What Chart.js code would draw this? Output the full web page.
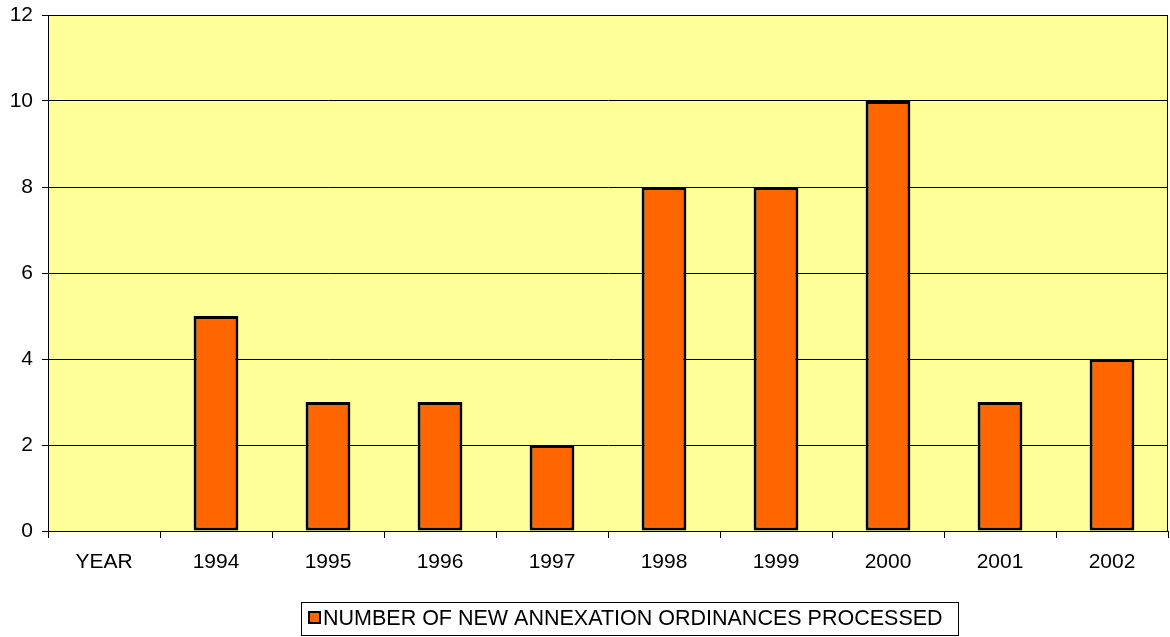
<!DOCTYPE html>
<html>
<head>
<meta charset="utf-8">
<script src="https://cdn.jsdelivr.net/npm/chart.js@4"></script>
<style>
  html, body { margin: 0; padding: 0; background: #fff; }
  #wrap { width: 1170px; height: 637px; }
</style>
</head>
<body>
<div id="wrap"><canvas id="barChart" width="1170" height="637"></canvas></div>
<script>
const categories = ['YEAR', '1994', '1995', '1996', '1997', '1998', '1999', '2000', '2001', '2002'];
const ordinances = [null, 5, 3, 3, 2, 8, 8, 10, 3, 4];
const seriesLabel = 'NUMBER OF NEW ANNEXATION ORDINANCES PROCESSED';
const yTicks = [0, 2, 4, 6, 8, 10, 12];

const FONT = "'Liberation Sans', Arial, sans-serif";

// yellow plot area, top/right frame and the boxed legend
const plotFrame = {
  id: 'plotFrame',
  beforeDraw(chart) {
    const { ctx, chartArea: a } = chart;
    ctx.save();
    ctx.fillStyle = '#FFFF99';
    ctx.fillRect(a.left, a.top, a.right - a.left, a.bottom - a.top);
    ctx.restore();
  },
  afterDraw(chart) {
    const { ctx, chartArea: a } = chart;
    ctx.save();
    ctx.strokeStyle = '#000';
    ctx.lineWidth = 1;
    ctx.beginPath();
    ctx.moveTo(a.left, a.top + 0.5);
    ctx.lineTo(a.right - 0.5, a.top + 0.5);
    ctx.lineTo(a.right - 0.5, a.bottom);
    ctx.stroke();

    // legend
    const ds = chart.data.datasets[0];
    ctx.strokeRect(301.5, 602.5, 657, 33);
    ctx.fillStyle = ds.backgroundColor;
    ctx.fillRect(309, 612, 11, 11);
    ctx.lineWidth = 2;
    ctx.strokeRect(309, 612, 11, 11);
    ctx.fillStyle = '#000';
    ctx.font = '21.5px ' + FONT;
    ctx.textBaseline = 'middle';
    ctx.textAlign = 'left';
    ctx.fillText(ds.label, 323, 619);
    ctx.restore();
  }
};

const barChart = new Chart(document.getElementById('barChart'), {
  type: 'bar',
  data: {
    labels: categories,
    datasets: [
      {
        label: seriesLabel,
        data: ordinances,
        backgroundColor: '#FF6600',
        borderColor: '#000',
        borderWidth: 3,
        borderSkipped: false,
        barPercentage: 0.4,
        categoryPercentage: 1,
      },
    ],
  },
  options: {
    responsive: false,
    animation: false,
    devicePixelRatio: 1,
    layout: { padding: { top: 15, right: 2, bottom: 61, left: 0 } },
    plugins: {
      legend: { display: false },
      tooltip: { enabled: false },
    },
    scales: {
      x: {
        afterFit(scale) { scale.height = 45; },
        grid: {
          offset: true,
          drawOnChartArea: false,
          color: '#000',
          tickLength: 7,
        },
        border: { color: '#000', width: 1 },
        ticks: {
          color: '#000',
          padding: 12,
          font: { family: FONT, size: 21 },
        },
      },
      y: {
        min: 0,
        max: 12,
        afterFit(scale) {
          scale.width = 48;
          scale.paddingTop = 0;
          scale.paddingBottom = 0;
        },
        afterBuildTicks(scale) { scale.ticks = yTicks.map(v => ({ value: v })); },
        grid: { color: '#000', lineWidth: 1, tickLength: 6 },
        border: { color: '#000', width: 1 },
        ticks: {
          color: '#000',
          padding: 9,
          font: { family: FONT, size: 21 },
        },
      },
    },
  },
  plugins: [plotFrame],
});
</script>
</body>
</html>
